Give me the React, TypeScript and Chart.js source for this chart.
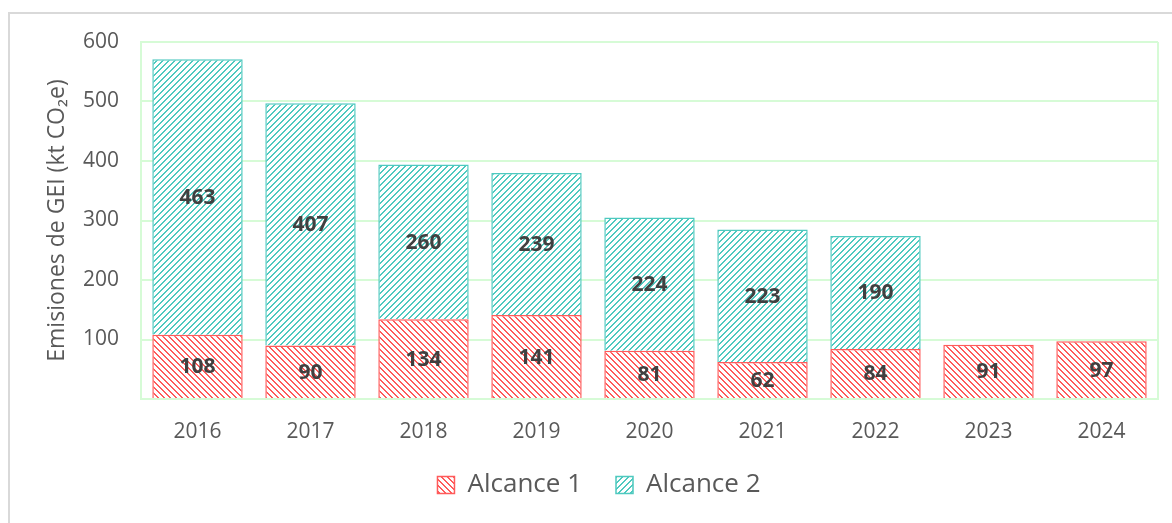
import React, { useEffect, useRef } from "react";
import { Chart, registerables } from "chart.js";

Chart.register(...registerables);

const years = ["2016", "2017", "2018", "2019", "2020", "2021", "2022", "2023", "2024"];
const alcance1 = [108, 90, 134, 141, 81, 62, 84, 91, 97];
const alcance2 = [463, 407, 260, 239, 224, 223, 190, null, null];
const yTicks = [0, 100, 200, 300, 400, 500, 600];
const seriesNames = ["Alcance 1", "Alcance 2"];
const yTitle = "Emisiones de GEI (kt CO₂e)";

const FONT = "'Open Sans', 'Noto Sans', sans-serif";
const RED = "#ff5b5b";
const TEAL = "#4ec9bf";
const GREEN_GRID = "#d6fbd6";

function makePattern(color: string, dir: "down" | "up") {
  const n = 6;
  const c = document.createElement("canvas");
  c.width = n;
  c.height = n;
  const ctx = c.getContext("2d")!;
  ctx.fillStyle = "#ffffff";
  ctx.fillRect(0, 0, n, n);
  ctx.fillStyle = color;
  for (let x = 0; x < n; x++) {
    for (let y = 0; y < n; y++) {
      const k = dir === "down" ? (((x - y) % n) + n) % n : (x + y) % n;
      if (k < 2) ctx.fillRect(x, y, 1, 1);
    }
  }
  return ctx.createPattern(c, "repeat") as CanvasPattern;
}

const plotBorder = {
  id: "plotBorder",
  beforeDatasetsDraw(chart: any) {
    const { ctx, chartArea } = chart;
    ctx.save();
    ctx.strokeStyle = GREEN_GRID;
    ctx.lineWidth = 2;
    ctx.beginPath();
    ctx.moveTo(chartArea.right, chartArea.top);
    ctx.lineTo(chartArea.right, chartArea.bottom);
    ctx.stroke();
    ctx.restore();
  },
};

const barLabels = {
  id: "barLabels",
  afterDatasetsDraw(chart: any) {
    const { ctx } = chart;
    ctx.save();
    ctx.font = `bold 21px ${FONT}`;
    ctx.fillStyle = "#404040";
    ctx.textAlign = "center";
    ctx.textBaseline = "middle";
    chart.data.datasets.forEach((ds: any, di: number) => {
      const meta = chart.getDatasetMeta(di);
      meta.data.forEach((el: any, i: number) => {
        const v = ds.data[i];
        if (v === null || v === undefined) return;
        const { x, y, base } = el.getProps(["x", "y", "base"], true);
        ctx.fillText(String(v), x, (y + base) / 2 + 1);
      });
    });
    ctx.restore();
  },
};

export default function App() {
  const ref = useRef<HTMLCanvasElement | null>(null);

  useEffect(() => {
    if (!ref.current) return;
    const redPat = makePattern(RED, "down");
    const tealPat = makePattern(TEAL, "up");
    const chart = new Chart(ref.current, {
      type: "bar",
      data: {
        labels: years,
        datasets: [
          {
            label: seriesNames[0],
            data: alcance1,
            backgroundColor: redPat,
            borderColor: RED,
            borderWidth: 1.5,
            barPercentage: 0.8,
            categoryPercentage: 1,
          },
          {
            label: seriesNames[1],
            data: alcance2,
            backgroundColor: tealPat,
            borderColor: TEAL,
            borderWidth: 1.5,
            barPercentage: 0.8,
            categoryPercentage: 1,
          },
        ],
      },
      options: {
        animation: false,
        responsive: false,
        maintainAspectRatio: false,
        layout: { padding: { left: 40, right: 14, top: 42, bottom: 15 } },
        plugins: {
          tooltip: { enabled: false },
          legend: {
            position: "bottom",
            labels: {
              boxWidth: 17,
              boxHeight: 17,
              padding: 34,
              color: "#595959",
              font: { family: FONT, size: 26 },
            },
          },
        },
        scales: {
          x: {
            stacked: true,
            grid: { display: false, drawTicks: false },
            border: { display: true, color: GREEN_GRID, width: 2 },
            ticks: { color: "#595959", font: { family: FONT, size: 21 }, padding: 20 },
            afterFit(scale: any) {
              scale.height = 39;
            },
          },
          y: {
            stacked: true,
            min: yTicks[0],
            max: yTicks[yTicks.length - 1],
            afterBuildTicks(scale: any) {
              scale.ticks = yTicks.map((v) => ({ value: v }));
            },
            grid: { color: GREEN_GRID, lineWidth: 2, drawTicks: false },
            border: { display: true, color: GREEN_GRID, width: 2 },
            ticks: {
              color: "#595959",
              font: { family: FONT, size: 21 },
              padding: 22,
              callback: (v: any) => (v === 0 ? "" : String(v)),
            },
            title: {
              display: true,
              text: yTitle,
              color: "#595959",
              font: { family: FONT, size: 23 },
              padding: { top: 4, bottom: 0 },
            },
            afterFit(scale: any) {
              scale.width = 101;
            },
          },
        },
      },
      plugins: [plotBorder, barLabels],
    });
    return () => chart.destroy();
  }, []);

  return (
    <div
      style={{
        position: "fixed",
        left: 0,
        top: 0,
        width: 1172,
        height: 523,
        overflow: "hidden",
        background: "#ffffff",
      }}
    >
      <div
        style={{
          position: "absolute",
          left: 8,
          top: 12,
          width: 1200,
          height: 600,
          borderLeft: "2px solid #d9d9d9",
          borderTop: "2px solid #d9d9d9",
        }}
      />
      <canvas ref={ref} width={1172} height={523} style={{ position: "absolute", left: 0, top: 0 }} />
    </div>
  );
}
